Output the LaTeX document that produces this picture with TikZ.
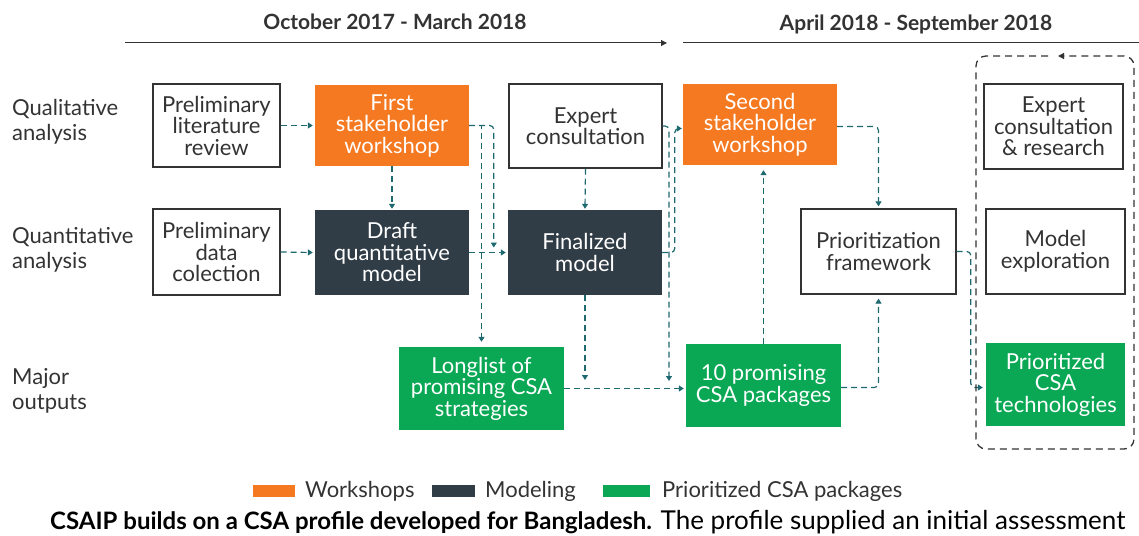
\documentclass[tikz,border=0pt]{standalone}
\usepackage{fontspec}
\setmainfont{Lato}
\usetikzlibrary{arrows.meta}
\definecolor{orng}{RGB}{245,121,32}
\definecolor{drk}{RGB}{48,60,70}
\definecolor{grn}{RGB}{10,168,84}
\definecolor{tealc}{RGB}{30,104,112}
\definecolor{txt}{RGB}{51,51,51}
\begin{document}
\begin{tikzpicture}[x=1pt,y=-1pt,
  nodefont/.style={font=\fontsize{22}{21.5}\selectfont},
  basebox/.style={align=center, inner sep=0pt, nodefont},
  wbox/.style={basebox, draw=txt, line width=1.3pt, fill=white, text=txt},
  obox/.style={basebox, fill=orng, text=white},
  dbox/.style={basebox, fill=drk, text=white},
  gbox/.style={basebox, fill=grn, text=white},
  sz/.style 2 args={minimum width=#1, minimum height=#2},
  conn/.style={draw=tealc, line width=1.2pt, dash pattern=on 6pt off 4pt, rounded corners=4pt, -{Triangle[length=5pt,width=6pt]}},
  rowlab/.style={align=left, anchor=west, inner sep=0pt, text=txt, font=\fontsize{22}{24.5}\selectfont},
  hdr/.style={font=\fontsize{21}{23}\selectfont\bfseries, text=txt, inner sep=0pt},
  legtxt/.style={anchor=west, inner sep=0pt, text=txt, font=\fontsize{22}{23}\selectfont},
]
\useasboundingbox (0,0) rectangle (1139,535);

% headers
\node[hdr] (h1) at (395,22) {October 2017 - March 2018};
\node[hdr] (h2) at (916,24) {April 2018 - September 2018};
\coordinate (t1a) at (125,43);
\coordinate (t1b) at (667,43);
\coordinate (t2a) at (683,43);
\coordinate (t2b) at (1139,43);
\draw[line width=1pt, draw=txt, -{Triangle[length=6pt,width=6pt]}] (t1a) -- (t1b);
\draw[line width=1pt, draw=txt] (t2a) -- (t2b);

% row labels
\node[rowlab] (r1) at (12,122) {Qualitative\\analysis};
\node[rowlab] (r2) at (12,250) {Quantitative\\analysis};
\node[rowlab] (r3) at (12,391) {Major\\outputs};

% row 1
\node[wbox, sz={127pt}{83pt}] (plr) at (216.5,125.5) {Preliminary\\literature\\review};
\node[obox, sz={154pt}{81pt}] (fsw) at (392,125.5) {First\\stakeholder\\workshop};
\node[wbox, sz={153pt}{84pt}] (exc) at (585.5,126) {Expert\\consultation};
\node[obox, sz={154pt}{81pt}] (ssw) at (760,124.5) {Second\\stakeholder\\workshop};
\node[wbox, sz={139pt}{85pt}] (ecr) at (1053.5,126.5) {Expert\\consultation\\\& research};

% row 2
\node[wbox, sz={127pt}{86pt}] (pdc) at (216.5,252) {Preliminary\\data\\colection};
\node[dbox, sz={154pt}{85pt}] (drf) at (392,252.5) {Draft\\quantitative\\model};
\node[dbox, sz={154pt}{85pt}] (fin) at (585,252.5) {Finalized\\model};
\node[wbox, sz={155pt}{85pt}] (prf) at (878.5,251.5) {Prioritization\\framework};
\node[wbox, sz={139pt}{85pt}] (mex) at (1055.5,251.5) {Model\\exploration};

% row 3
\node[gbox, sz={165pt}{83pt}] (lng) at (481.5,388.5) {Longlist of\\promising CSA\\strategies};
\node[gbox, sz={155pt}{83pt}] (pkg) at (763.5,385.5) {10 promising\\CSA packages};
\node[gbox, sz={139pt}{83pt}] (pct) at (1055.5,384.5) {Prioritized\\CSA\\technologies};

% connectors
\draw[conn] (plr.east) -- ([xshift=-2pt]fsw.west);
\draw[conn] (pdc.east) -- ([xshift=-2pt]drf.west);
\draw[conn] (fsw.south) -- ([yshift=1pt]drf.north);
\draw[conn] (exc.south) -- ([yshift=1pt]fin.north);
\draw[conn] (fsw.east) -| ([xshift=-14pt,yshift=5pt]fin.west);
\draw[conn, rounded corners=0pt] (fsw.east) -| ([yshift=5pt]lng.north);
\draw[conn] (drf.east) -- ([xshift=-2pt]fin.west);
\coordinate (j1) at (585,380);
\coordinate (j2) at (669,381);
\draw[conn] (fin.south) -- (j1);
\draw[conn] (exc.east) -| (j2);
\draw[conn] (fin.east) -| ([xshift=-8pt,yshift=-4pt]ssw.west) -- ([xshift=-1pt,yshift=-4pt]ssw.west);
\draw[conn] (lng.east) -- ([xshift=-2pt]lng.east -| pkg.west);
\draw[conn] (pkg.north) -- ([yshift=-5pt]pkg.north |- ssw.south);
\draw[conn] ([yshift=-2pt]ssw.east) -| ([yshift=2pt]prf.north);
\draw[conn] ([yshift=-2pt]pkg.east) -| ([yshift=-4pt]prf.south);
\draw[conn] (prf.east) -| ([xshift=-15pt,yshift=-3pt]pct.west) -- ([xshift=-3pt,yshift=-3pt]pct.west);

% dashed loop
\draw[line width=1.3pt, draw=txt, dash pattern=on 7pt off 5pt, rounded corners=10pt, -{Triangle[length=6pt,width=6pt]}]
  (1048,56) -- (976,56) -- (976,449) -- (1134,449) -- (1134,56) -- (1058,56);

% legend
\fill[orng] (253,485) rectangle (295,497);
\node[legtxt] (l1) at (305,491) {Workshops};
\fill[drk] (432,485) rectangle (475,497);
\node[legtxt] (l2) at (485,491) {Modeling};
\fill[grn] (603,485) rectangle (650,497);
\node[legtxt] (l3) at (662,491) {Prioritized CSA packages};

% caption
\node[anchor=base west, inner sep=0pt, text=black, font=\fontsize{24}{26}\selectfont] (cap) at (50,529)
  {\textbf{CSAIP builds on a CSA profile developed for Bangladesh.}\fontsize{26}{26}\selectfont{} The profile supplied an initial assessment};
\end{tikzpicture}
\end{document}
